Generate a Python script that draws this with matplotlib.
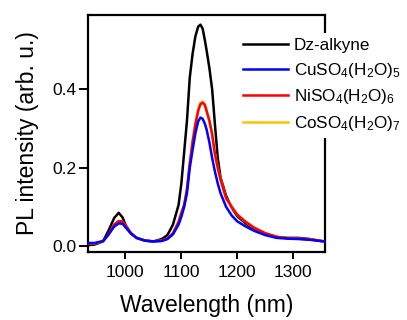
import matplotlib
matplotlib.use("Agg")
import matplotlib.pyplot as plt

plt.rcParams["font.family"] = ["Liberation Sans", "DejaVu Sans"]
plt.rcParams["mathtext.default"] = "regular"

# wavelength grid [nm]
wavelength = [930, 945, 960, 970, 980, 988, 995, 1000, 1010, 1020, 1035, 1050,
              1065, 1075, 1085, 1095, 1100, 1105, 1110, 1115, 1120, 1125, 1130,
              1134, 1138, 1142, 1145, 1150, 1155, 1160, 1165, 1170, 1180, 1190,
              1200, 1215, 1230, 1250, 1270, 1290, 1310, 1330, 1355]

dz_alkyne = [0.002, 0.004, 0.012, 0.040, 0.072, 0.085, 0.073, 0.055, 0.032, 0.021,
             0.014, 0.012, 0.018, 0.028, 0.055, 0.105, 0.160, 0.240, 0.320, 0.430,
             0.490, 0.535, 0.560, 0.565, 0.555, 0.525, 0.500, 0.455, 0.400, 0.310,
             0.225, 0.175, 0.128, 0.098, 0.076, 0.058, 0.043, 0.031, 0.023, 0.021,
             0.021, 0.018, 0.012]

cuso4 = [0.008, 0.008, 0.013, 0.030, 0.050, 0.058, 0.057, 0.048, 0.032, 0.021,
         0.014, 0.012, 0.013, 0.018, 0.030, 0.055, 0.075, 0.100, 0.135, 0.200,
         0.245, 0.288, 0.318, 0.328, 0.325, 0.312, 0.298, 0.265, 0.225, 0.190,
         0.160, 0.135, 0.100, 0.078, 0.063, 0.050, 0.039, 0.028, 0.021, 0.019,
         0.018, 0.016, 0.012]

niso4 = [0.006, 0.007, 0.012, 0.030, 0.055, 0.064, 0.063, 0.052, 0.033, 0.021,
         0.014, 0.012, 0.014, 0.019, 0.033, 0.062, 0.085, 0.105, 0.145, 0.210,
         0.265, 0.310, 0.345, 0.362, 0.366, 0.360, 0.345, 0.320, 0.285, 0.235,
         0.200, 0.170, 0.122, 0.100, 0.080, 0.062, 0.047, 0.033, 0.024, 0.020,
         0.019, 0.017, 0.012]

coso4 = [0.006, 0.007, 0.012, 0.030, 0.054, 0.063, 0.062, 0.052, 0.033, 0.021,
         0.014, 0.012, 0.014, 0.019, 0.033, 0.062, 0.085, 0.106, 0.147, 0.212,
         0.268, 0.313, 0.348, 0.366, 0.369, 0.362, 0.346, 0.321, 0.285, 0.235,
         0.200, 0.170, 0.122, 0.100, 0.080, 0.062, 0.047, 0.033, 0.024, 0.020,
         0.019, 0.017, 0.012]

series = [
    ("Dz-alkyne", dz_alkyne, "#000000"),
    (r"CuSO$_4$(H$_2$O)$_5$", cuso4, "#0000ff"),
    (r"NiSO$_4$(H$_2$O)$_6$", niso4, "#ff0000"),
    (r"CoSO$_4$(H$_2$O)$_7$", coso4, "#ffc000"),
]
zorders = {"#000000": 2, "#ffc000": 3, "#ff0000": 4, "#0000ff": 5}

fig = plt.figure(figsize=(4.07, 3.2), dpi=100)
ax = fig.add_axes([0.216, 0.2125, 0.583, 0.741])

for label, vals, col in series:
    ax.plot(wavelength, vals, color=col, lw=1.8, label=label, zorder=zorders[col])

ax.set_xlim(933, 1357)
ax.set_ylim(-0.015, 0.59)
ax.set_xticks([1000, 1100, 1200, 1300])
ax.set_yticks([0.0, 0.2, 0.4])
ax.set_yticklabels(["0.0", "0.2", "0.4"])
for s in ax.spines.values():
    s.set_linewidth(1.6)
ax.tick_params(direction="out", width=1.4, labelsize=12.5)
ax.tick_params(axis="x", length=5, pad=4.5)
ax.tick_params(axis="y", length=6.5, pad=1.5)
ax.set_xlabel("Wavelength (nm)", fontsize=16.5, labelpad=10)
ax.set_ylabel("PL intensity (arb. u.)", fontsize=16.5, labelpad=10)

leg = ax.legend(loc="upper left", bbox_to_anchor=(0.585, 0.8975),
                bbox_transform=fig.transFigure, fontsize=12.3,
                handlelength=2.6, handletextpad=0.35, labelspacing=0.45,
                borderpad=0.3, borderaxespad=0, frameon=True, fancybox=False)
leg.get_frame().set_edgecolor("none")
leg.get_frame().set_facecolor("white")
leg.get_frame().set_alpha(1)
leg.set_zorder(10)
for h in leg.get_lines():
    h.set_linewidth(1.8)

fig.savefig("out.png", dpi=100)
